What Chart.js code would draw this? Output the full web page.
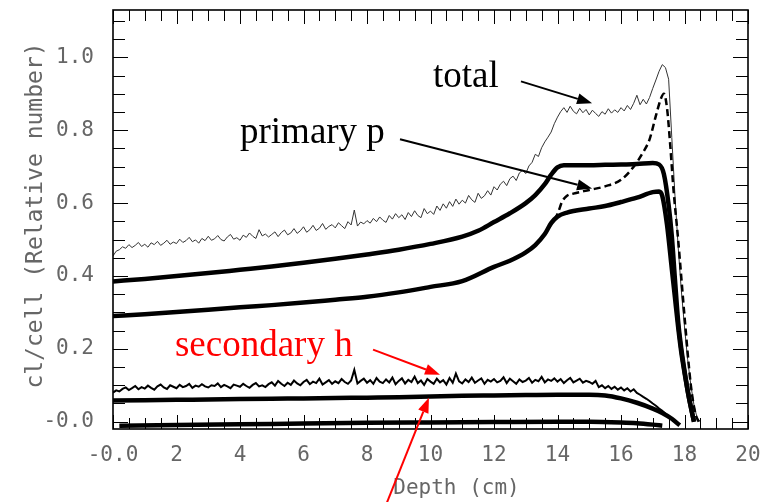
<!DOCTYPE html>
<html>
<head>
<meta charset="utf-8">
<script src="https://cdn.jsdelivr.net/npm/chart.js@4/dist/chart.umd.min.js"></script>
<style>
  html, body { margin: 0; padding: 0; background: #fff; }
  #wrap { width: 776px; height: 502px; position: relative; }
</style>
</head>
<body>
<div id="wrap"><canvas id="c" width="776" height="502"></canvas></div>
<script>
// Axis ticks
const xTickValues = [0, 2, 4, 6, 8, 10, 12, 14, 16, 18, 20];
const xTickLabels = ['-0.0', '2', '4', '6', '8', '10', '12', '14', '16', '18', '20'];
const yTickValues = [0, 0.2, 0.4, 0.6, 0.8, 1.0];
const yTickLabels = ['-0.0', '0.2', '0.4', '0.6', '0.8', '1.0'];

// Total: sampled every 0.1 cm from 0 cm
const totalStep = 0.1;
const totalValues = [
  0.455, 0.468, 0.472, 0.480, 0.476, 0.486, 0.478, 0.484, 0.492, 0.481,
  0.487, 0.479, 0.491, 0.486, 0.495, 0.484, 0.490, 0.498, 0.487, 0.493,
  0.489, 0.501, 0.492, 0.497, 0.506, 0.494, 0.499, 0.490, 0.503, 0.497,
  0.509, 0.498, 0.502, 0.511, 0.500, 0.496, 0.507, 0.514, 0.501, 0.505,
  0.498, 0.512, 0.506, 0.518, 0.509, 0.503, 0.527, 0.510, 0.515, 0.507,
  0.514, 0.521, 0.508, 0.519, 0.526, 0.513, 0.518, 0.530, 0.517, 0.524,
  0.535, 0.520, 0.527, 0.539, 0.525, 0.531, 0.544, 0.528, 0.536, 0.541,
  0.532, 0.546, 0.538, 0.530, 0.549, 0.540, 0.581, 0.537, 0.548, 0.543,
  0.552, 0.545, 0.558, 0.549, 0.562, 0.553, 0.547, 0.566, 0.556, 0.571,
  0.560, 0.568, 0.555, 0.574, 0.563, 0.579, 0.566, 0.560, 0.585, 0.571,
  0.578, 0.569, 0.592, 0.580, 0.598, 0.586, 0.604, 0.591, 0.611, 0.597,
  0.608, 0.600, 0.621, 0.609, 0.602, 0.627, 0.613, 0.620, 0.634, 0.622,
  0.645, 0.636, 0.652, 0.660, 0.648, 0.667, 0.674, 0.662, 0.683, 0.690,
  0.681, 0.702, 0.712, 0.734, 0.728, 0.752, 0.768, 0.781, 0.795, 0.818,
  0.836, 0.851, 0.862, 0.849, 0.866, 0.852, 0.845, 0.860, 0.848, 0.857,
  0.842, 0.855, 0.846, 0.838, 0.851, 0.844, 0.859, 0.847, 0.856, 0.849,
  0.862, 0.853, 0.868, 0.857, 0.874, 0.896, 0.870, 0.885, 0.872, 0.890,
  0.915, 0.938, 0.962, 0.980, 0.972, 0.940, 0.780, 0.620, 0.480, 0.360,
  0.260, 0.170, 0.100, 0.045, 0.010, 0.000
];

// Primary p, upper solid curve
const upperDepth = [0, 1, 2, 3, 4, 5, 6, 7, 8, 9, 10, 11, 11.5, 12, 12.5, 13, 13.3, 13.6, 13.8, 14.0, 14.2, 14.5, 15, 15.5, 16, 16.5, 17, 17.2, 17.35, 17.5, 17.6, 17.7, 17.8, 17.9, 18.0, 18.1, 18.2, 18.3];
const upperValues = [0.385, 0.392, 0.400, 0.408, 0.417, 0.426, 0.436, 0.447, 0.459, 0.472, 0.488, 0.508, 0.524, 0.548, 0.572, 0.600, 0.622, 0.652, 0.678, 0.698, 0.704, 0.704, 0.704, 0.705, 0.706, 0.707, 0.710, 0.706, 0.680, 0.595, 0.510, 0.390, 0.275, 0.200, 0.140, 0.085, 0.040, 0.000];

// Lower solid curve
const lowerDepth = [0, 1, 2, 3, 4, 5, 6, 7, 8, 9, 10, 11, 12, 12.5, 13, 13.3, 13.6, 13.8, 14.0, 14.3, 15, 15.5, 16, 16.5, 17, 17.2, 17.3, 17.45, 17.6, 17.7, 17.8, 17.9, 18.0, 18.1, 18.2, 18.3];
const lowerValues = [0.290, 0.295, 0.301, 0.307, 0.314, 0.320, 0.327, 0.335, 0.343, 0.355, 0.370, 0.386, 0.425, 0.442, 0.465, 0.485, 0.515, 0.545, 0.563, 0.574, 0.585, 0.592, 0.603, 0.615, 0.630, 0.632, 0.620, 0.540, 0.420, 0.340, 0.260, 0.190, 0.135, 0.085, 0.040, 0.000];

// Dashed curve (primary p)
const dashedDepth = [13.7, 13.9, 14.0, 14.15, 14.3, 14.5, 15, 15.5, 16, 16.4, 16.7, 16.9, 17.1, 17.25, 17.35, 17.45, 17.55, 17.65, 17.8, 18.0, 18.2, 18.35, 18.45];
const dashedValues = [0.530, 0.555, 0.570, 0.605, 0.620, 0.626, 0.636, 0.646, 0.664, 0.700, 0.740, 0.775, 0.840, 0.885, 0.900, 0.860, 0.760, 0.640, 0.500, 0.290, 0.100, 0.020, 0.000];

// Secondary h: sampled every 0.1 cm from 0 cm
const secondaryStep = 0.1;
const secondaryValues = [
  0.080, 0.086, 0.083, 0.090, 0.094, 0.087, 0.092, 0.098, 0.089, 0.095,
  0.091, 0.099, 0.093, 0.088, 0.097, 0.102, 0.094, 0.090, 0.100, 0.096,
  0.092, 0.101, 0.095, 0.098, 0.104, 0.093, 0.099, 0.096, 0.103, 0.097,
  0.094, 0.100, 0.098, 0.105, 0.095, 0.101, 0.097, 0.092, 0.102, 0.099,
  0.096, 0.104, 0.098, 0.093, 0.101, 0.106, 0.097, 0.100, 0.095, 0.103,
  0.108, 0.099, 0.112, 0.104, 0.098, 0.107, 0.101, 0.113, 0.105, 0.100,
  0.109, 0.115, 0.103, 0.110, 0.106, 0.118, 0.102, 0.108, 0.114, 0.104,
  0.111, 0.106, 0.117, 0.109, 0.104, 0.113, 0.142, 0.105, 0.112, 0.118,
  0.107, 0.114, 0.104, 0.120, 0.110, 0.106, 0.116, 0.108, 0.121, 0.103,
  0.112, 0.119, 0.105, 0.115, 0.109, 0.124, 0.106, 0.113, 0.101, 0.117,
  0.110, 0.104, 0.118, 0.108, 0.114, 0.102, 0.120, 0.107, 0.132, 0.111,
  0.105, 0.116, 0.109, 0.121, 0.107, 0.113, 0.119, 0.104, 0.115, 0.110,
  0.117, 0.108, 0.112, 0.122, 0.106, 0.118, 0.111, 0.104, 0.116, 0.109,
  0.113, 0.120, 0.107, 0.115, 0.111, 0.123, 0.108, 0.116, 0.112, 0.119,
  0.110, 0.117, 0.106, 0.114, 0.120, 0.108, 0.113, 0.118, 0.107, 0.112,
  0.109, 0.104, 0.112, 0.095, 0.100, 0.092, 0.098, 0.090, 0.096, 0.088,
  0.094, 0.086, 0.092, 0.083, 0.089, 0.079, 0.074, 0.068, 0.063, 0.057,
  0.050, 0.044, 0.036, 0.030, 0.022, 0.015, 0.008, 0.002, -0.008
];

// Smooth curve near 0.06
const midDepth = [0, 1, 2, 3, 4, 5, 6, 7, 8, 9, 10, 11, 12, 13, 14, 15, 15.5, 16, 16.5, 17, 17.3, 17.6, 17.85];
const midValues = [0.058, 0.059, 0.060, 0.061, 0.062, 0.063, 0.064, 0.065, 0.066, 0.067, 0.069, 0.071, 0.072, 0.073, 0.074, 0.074, 0.072, 0.064, 0.052, 0.036, 0.024, 0.008, -0.010];

// Bottom curve near zero
const baseDepth = [0.2, 2, 4, 6, 8, 10, 12, 14, 15, 16, 16.5, 17, 17.3];
const baseValues = [-0.011, -0.009, -0.007, -0.005, -0.003, -0.002, -0.001, 0.000, 0.000, -0.002, -0.004, -0.008, -0.011];

const toPoints = (xs, ys) => ys.map((y, i) => ({ x: xs[i], y }));
const sampled = (step, ys) => ys.map((y, i) => ({ x: +(i * step).toFixed(2), y }));

const AXIS_FONT = '"DejaVu Sans Mono", "Liberation Mono", monospace';
const TEXT_GREY = '#666';

// Frame, inward tick marks, axis titles and callouts
const decorations = {
  id: 'decorations',
  afterDraw(chart) {
    const { ctx, chartArea: a, scales: { x, y } } = chart;
    ctx.save();

    // Inward ticks on all four sides
    ctx.strokeStyle = '#000';
    ctx.lineWidth = 1;
    ctx.beginPath();
    for (let k = 0; k <= 40; k++) {
      const v = k * 0.5;
      const px = Math.round(x.getPixelForValue(v)) + 0.5;
      const len = (k % 4 === 0) ? 14 : 11;
      ctx.moveTo(px, a.bottom); ctx.lineTo(px, a.bottom - len);
      ctx.moveTo(px, a.top); ctx.lineTo(px, a.top + len);
    }
    for (let k = 0; k <= 22; k++) {
      const v = k * 0.05;
      const py = Math.round(y.getPixelForValue(v)) + 0.5;
      const len = (k % 4 === 0) ? 15 : 12;
      ctx.moveTo(a.left, py); ctx.lineTo(a.left + len, py);
      ctx.moveTo(a.right, py); ctx.lineTo(a.right - len, py);
    }
    ctx.stroke();

    // Frame
    ctx.lineWidth = 1.6;
    ctx.strokeRect(a.left, a.top, a.right - a.left, a.bottom - a.top);

    // Axis titles
    ctx.fillStyle = TEXT_GREY;
    ctx.font = '21px ' + AXIS_FONT;
    ctx.textAlign = 'center';
    ctx.textBaseline = 'middle';
    ctx.fillText('Depth (cm)', (a.left + a.right) / 2 + 26, a.bottom + 60);
    ctx.save();
    ctx.translate(a.left - 77, (a.top + a.bottom) / 2 - 4);
    ctx.rotate(-Math.PI / 2);
    ctx.font = '23px ' + AXIS_FONT;
    ctx.fillText('cl/cell (Relative number)', 0, 0);
    ctx.restore();

    // Callouts
    const arrow = (x0, y0, x1, y1, color) => {
      const sx = x.getPixelForValue(x0), sy = y.getPixelForValue(y0);
      const ex = x.getPixelForValue(x1), ey = y.getPixelForValue(y1);
      const ang = Math.atan2(ey - sy, ex - sx);
      const hl = 15, hw = 5.5;
      const bx = ex - hl * Math.cos(ang), by = ey - hl * Math.sin(ang);
      ctx.strokeStyle = color; ctx.fillStyle = color; ctx.lineWidth = 2;
      ctx.beginPath(); ctx.moveTo(sx, sy); ctx.lineTo(bx, by); ctx.stroke();
      ctx.beginPath();
      ctx.moveTo(ex, ey);
      ctx.lineTo(bx + hw * Math.sin(ang), by - hw * Math.cos(ang));
      ctx.lineTo(bx - hw * Math.sin(ang), by + hw * Math.cos(ang));
      ctx.closePath(); ctx.fill();
    };
    const label = (text, xv, yv, color) => {
      ctx.fillStyle = color;
      ctx.font = '37px "Liberation Serif", "Times New Roman", serif';
      ctx.textAlign = 'left';
      ctx.textBaseline = 'alphabetic';
      ctx.fillText(text, x.getPixelForValue(xv), y.getPixelForValue(yv));
    };
    label('total', 10.08, 0.920, '#000');
    label('primary p', 4.0, 0.766, '#000');
    label('secondary h', 1.95, 0.181, '#ff0000');
    arrow(12.85, 0.934, 15.09, 0.874, '#000');
    arrow(9.04, 0.775, 15.09, 0.640, '#000');
    arrow(8.19, 0.198, 10.30, 0.129, '#ff0000');
    arrow(8.60, -0.228, 9.95, 0.066, '#ff0000');

    ctx.restore();
  }
};

const line = (data, opts) => Object.assign({
  data, borderColor: '#000', pointRadius: 0, fill: false, tension: 0, borderWidth: 2
}, opts);

new Chart(document.getElementById('c'), {
  type: 'line',
  data: {
    datasets: [
      line(toPoints(baseDepth, baseValues), { label: 'base', borderWidth: 4.5, cubicInterpolationMode: 'monotone' }),
      line(toPoints(midDepth, midValues), { label: 'mid', borderWidth: 4.5, cubicInterpolationMode: 'monotone' }),
      line(sampled(secondaryStep, secondaryValues), { label: 'secondary h', borderWidth: 2 }),
      line(toPoints(lowerDepth, lowerValues), { label: 'lower', borderWidth: 4.5, cubicInterpolationMode: 'monotone' }),
      line(toPoints(upperDepth, upperValues), { label: 'upper', borderWidth: 4.5, cubicInterpolationMode: 'monotone' }),
      line(toPoints(dashedDepth, dashedValues), { label: 'primary p', borderWidth: 2.5, borderDash: [7, 4], cubicInterpolationMode: 'monotone' }),
      line(sampled(totalStep, totalValues), { label: 'total', borderWidth: 1, borderColor: '#333' })
    ]
  },
  options: {
    responsive: false,
    animation: false,
    layout: { padding: { top: 10, right: 28, left: 0, bottom: 0 } },
    plugins: { legend: { display: false }, tooltip: { enabled: false } },
    scales: {
      x: {
        type: 'linear', min: 0, max: 20,
        grid: { display: false, drawTicks: false },
        border: { display: false },
        afterBuildTicks: s => { s.ticks = xTickValues.map(v => ({ value: v })); },
        afterFit: s => { s.height = 73; s.paddingLeft = 0; s.paddingRight = 0; },
        ticks: {
          padding: 14, color: TEXT_GREY, maxRotation: 0, autoSkip: false,
          font: { family: AXIS_FONT, size: 21 },
          callback: v => xTickLabels[xTickValues.indexOf(v)]
        }
      },
      y: {
        type: 'linear', min: -0.02, max: 1.13,
        grid: { display: false, drawTicks: false },
        border: { display: false },
        afterBuildTicks: s => { s.ticks = yTickValues.map(v => ({ value: v })); },
        afterFit: s => { s.width = 113; s.paddingTop = 0; s.paddingBottom = 0; },
        ticks: {
          padding: 19, color: TEXT_GREY, autoSkip: false,
          font: { family: AXIS_FONT, size: 21 },
          callback: v => yTickLabels[yTickValues.findIndex(t => Math.abs(t - v) < 1e-9)]
        }
      }
    }
  },
  plugins: [decorations]
});
</script>
</body>
</html>
